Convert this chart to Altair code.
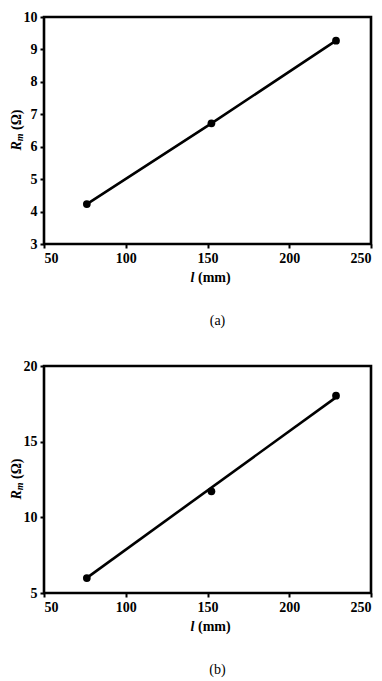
import altair as alt
import pandas as pd

# ---- data ----
length_mm = [76.2, 152.4, 228.6]
rm_a = [4.23, 6.72, 9.27]
rm_b = [5.99, 11.72, 18.04]
fit_b_x = [76.2, 228.6]
fit_b_y = [6.0, 17.93]

x_ticks = [50, 100, 150, 200, 250]
y_ticks_a = [3, 4, 5, 6, 7, 8, 9, 10]
y_ticks_b = [5, 10, 15, 20]
panel_labels = ["(a)", "(b)"]

W, H = 327, 227
FONT = "Liberation Serif"


def text_at(txt, x, y, size=14, bold=True, italic=False, angle=0, align="center"):
    return alt.Chart(pd.DataFrame({"t": [txt]})).mark_text(
        font=FONT, fontSize=size, fontWeight="bold" if bold else "normal",
        fontStyle="italic" if italic else "normal", angle=angle, align=align,
        baseline="middle", color="black"
    ).encode(x=alt.value(x), y=alt.value(y), text="t:N")


def panel(df_pts, df_line, y_dom, y_ticks, label):
    xs = alt.X("l:Q", scale=alt.Scale(domain=[50, 250], nice=False),
               axis=alt.Axis(values=x_ticks, title=None))
    ys = alt.Y("r:Q", scale=alt.Scale(domain=y_dom, nice=False, zero=False),
               axis=alt.Axis(values=y_ticks, title=None))
    line = alt.Chart(df_line).mark_line(color="black", strokeWidth=2.6).encode(x=xs, y=ys)
    pts = alt.Chart(df_pts).mark_circle(size=60, color="black", opacity=1).encode(x=xs, y=ys)
    cx = W / 2
    cy = H / 2
    tx = -27
    layers = [
        line, pts,
        text_at("l", cx - 17, H + 34, italic=True, align="left"),
        text_at("(mm)", cx - 9.5, H + 34, align="left"),
        text_at("R", tx, cy + 20, italic=True, angle=270, align="left"),
        text_at("m", tx + 3, cy + 10.7, size=10, italic=True, angle=270, align="left"),
        text_at("(Ω)", tx, cy - 0.5, angle=270, align="left"),
        text_at(label, cx + 10, H + 77, bold=False),
    ]
    return alt.layer(*layers).properties(width=W, height=H)


df_a = pd.DataFrame({"l": length_mm, "r": rm_a})
df_b = pd.DataFrame({"l": length_mm, "r": rm_b})
df_fit_b = pd.DataFrame({"l": fit_b_x, "r": fit_b_y})

chart = alt.vconcat(
    panel(df_a, df_a, [3, 10], y_ticks_a, panel_labels[0]),
    panel(df_b, df_fit_b, [5, 20], y_ticks_b, panel_labels[1]),
    spacing=27,
).properties(padding=0).configure_axis(
    labelFont=FONT, labelFontSize=14, labelFontWeight="bold", labelColor="black",
    tickColor="black", tickSize=4, tickWidth=2, domain=False, grid=False,
    labelPadding=3,
).configure_view(stroke="black", strokeWidth=2.6)

chart.save("out.html", embed_options={"renderer": "svg", "actions": False})
